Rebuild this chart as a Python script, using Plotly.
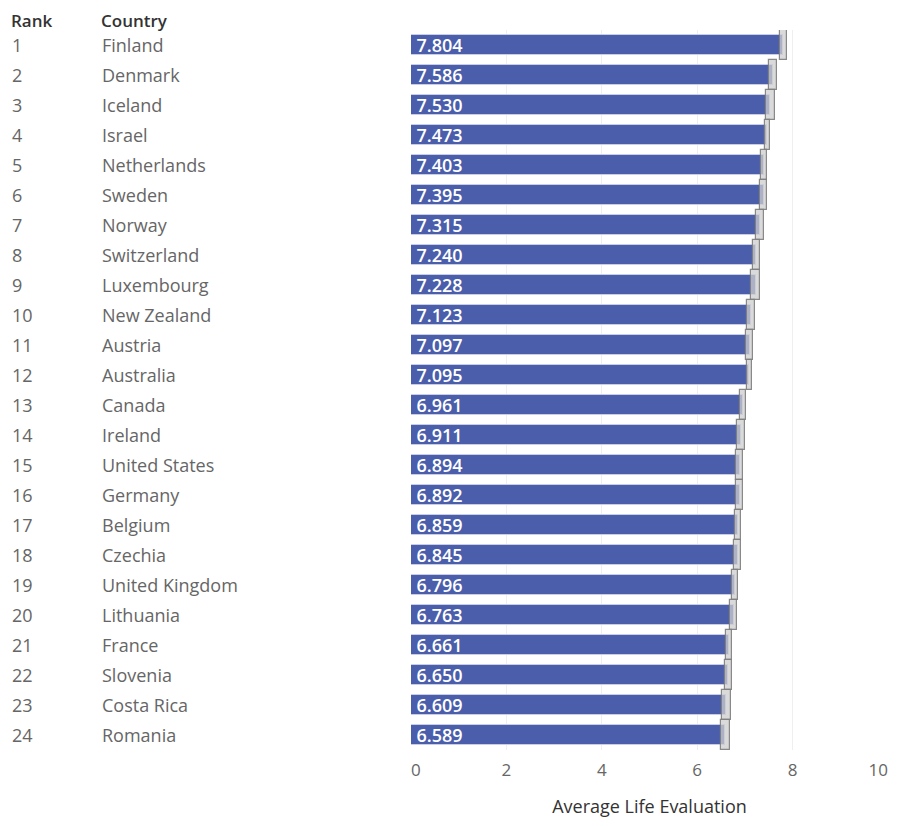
import plotly.graph_objects as go

ranks = list(range(1, 25))
countries = ["Finland", "Denmark", "Iceland", "Israel", "Netherlands", "Sweden",
             "Norway", "Switzerland", "Luxembourg", "New Zealand", "Austria",
             "Australia", "Canada", "Ireland", "United States", "Germany",
             "Belgium", "Czechia", "United Kingdom", "Lithuania", "France",
             "Slovenia", "Costa Rica", "Romania"]
scores = [7.804, 7.586, 7.530, 7.473, 7.403, 7.395, 7.315, 7.240, 7.228, 7.123,
          7.097, 7.095, 6.961, 6.911, 6.894, 6.892, 6.859, 6.845, 6.796, 6.763,
          6.661, 6.650, 6.609, 6.589]
ci_low = [7.733, 7.506, 7.434, 7.411, 7.343, 7.322, 7.240, 7.164, 7.135, 7.037,
          7.024, 7.034, 6.899, 6.829, 6.823, 6.815, 6.792, 6.769, 6.729, 6.691,
          6.597, 6.578, 6.510, 6.490]
ci_high = [7.875, 7.667, 7.625, 7.535, 7.463, 7.468, 7.390, 7.316, 7.321, 7.209,
           7.170, 7.156, 7.023, 6.993, 6.965, 6.969, 6.926, 6.921, 6.863, 6.835,
           6.725, 6.722, 6.708, 6.688]
x_ticks = [0, 2, 4, 6, 8]
x_tick_labels = ["\u20070", "2", "4", "6", "8"]
x_last_tick = [10]
x_last_label = ["10"]

W, H = 881, 810        # page has an 8px body margin
OX, OY = 8, 8
FONT = "Open Sans"
T = 30 - OY
PH = 720

fig = go.Figure()
fig.add_trace(go.Bar(
    x=scores, y=ranks, orientation="h", width=0.66,
    marker=dict(color="#4a5eab", line=dict(color="#c9cde6", width=1)),
    text=["\u2009" + f"{s:.3f}" for s in scores], textposition="inside",
    insidetextanchor="start", textangle=0, constraintext="none",
    textfont=dict(family=FONT, size=18, color="white", weight=600),
    cliponaxis=False, hoverinfo="skip",
))
fig.add_trace(go.Bar(
    x=[h - l for l, h in zip(ci_low, ci_high)], base=ci_low, y=ranks,
    orientation="h", width=1.0, xaxis="x2",
    marker=dict(color="rgba(205,205,205,0.75)",
                line=dict(color="rgba(125,125,125,0.9)", width=1.2)),
    hoverinfo="skip",
))

ANX = OX + 2
annotations = []
for r, c in zip(ranks, countries):
    annotations.append(dict(x=(12 - ANX) / W, y=r, xref="paper", yref="y", text=str(r),
                            showarrow=False, xanchor="left", yanchor="middle",
                            font=dict(family=FONT, size=18, color="#666666")))
    annotations.append(dict(x=(102 - ANX) / W, y=r, xref="paper", yref="y", text=c,
                            showarrow=False, xanchor="left", yanchor="middle",
                            font=dict(family=FONT, size=18, color="#666666")))
for label, px in (("Rank", 12), ("Country", 102)):
    annotations.append(dict(x=(px - ANX) / W, y=1 + T / PH, xref="paper", yref="paper",
                            text=label, showarrow=False, xanchor="left",
                            yanchor="top", borderpad=0,
                            font=dict(family=FONT, size=17, color="#333333", weight=600)))

domain = [(411 - OX) / W, (888 - OX) / W]
tickfont = dict(family=FONT, size=17, color="#666666")
fig.update_layout(
    width=W, height=H, barmode="overlay", showlegend=False,
    paper_bgcolor="white", plot_bgcolor="white",
    margin=dict(l=0, r=0, t=T, b=H - T - PH),
    annotations=annotations, bargap=0,
    xaxis=dict(domain=domain, range=[0, 10],
               tickvals=x_ticks, ticktext=x_tick_labels, automargin=False,
               showgrid=True, gridcolor="#efefef", gridwidth=1, zeroline=False,
               tickfont=tickfont,
               ticklabelstandoff=8, fixedrange=True,
               title=dict(text="Average Life Evaluation", standoff=28,
                          font=dict(family=FONT, size=18, color="#333333"))),
    xaxis2=dict(domain=domain, range=[0, 10], overlaying="x", anchor="y",
                side="bottom", tickvals=x_last_tick, ticktext=x_last_label,
                ticklabelposition="outside left", automargin=False,
                showgrid=True, gridcolor="#efefef", gridwidth=1, zeroline=False,
                tickfont=tickfont, ticklabelstandoff=8, fixedrange=True),
    yaxis=dict(range=[24.5, 0.5], showticklabels=False, showgrid=False,
               automargin=False, zeroline=False, fixedrange=True),
)

fig.write_html("out.html")
